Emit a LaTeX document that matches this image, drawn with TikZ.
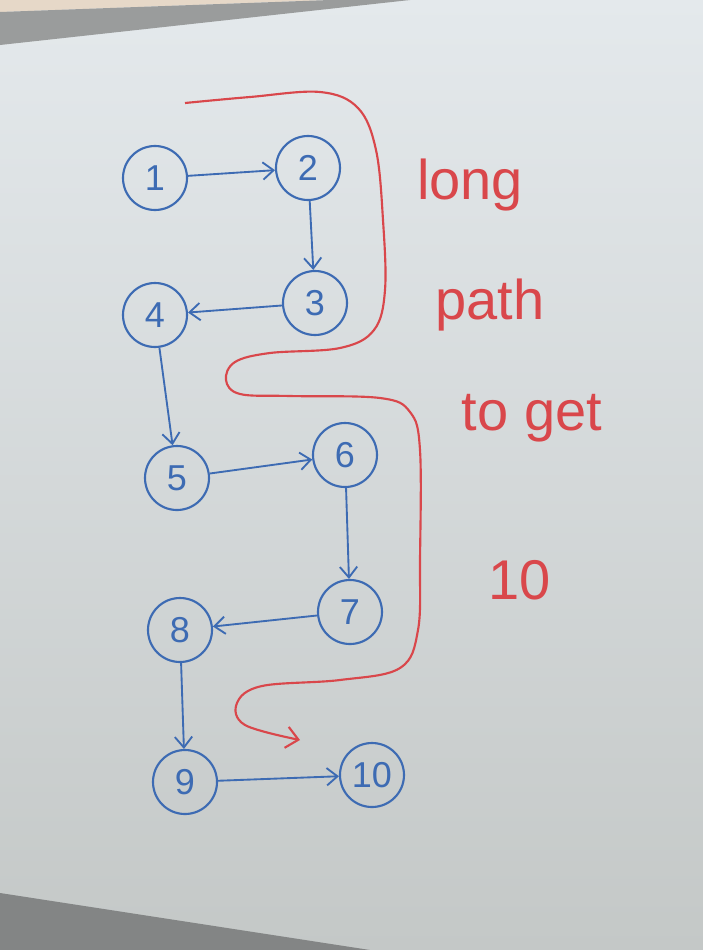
\documentclass[tikz,border=0pt]{standalone}
\usepackage{fontspec}
\setmainfont{Liberation Sans}
\usetikzlibrary{arrows.meta}
\definecolor{markerblue}{HTML}{3D6BB3}
\definecolor{markerred}{HTML}{D9474B}
\definecolor{boardtop}{HTML}{E4E9EC}
\definecolor{boardbot}{HTML}{C4C8C7}
\definecolor{frame}{HTML}{9A9C9C}
\definecolor{wall}{HTML}{E6D8C8}
\tikzset{
  vertex/.style={draw=markerblue,circle,line width=1.6pt,minimum size=48pt,
    inner sep=0pt,text=markerblue,font=\fontsize{27}{27}\selectfont},
  edge/.style={draw=markerblue,line width=1.4pt,-{Straight Barb[length=8pt,width=13pt]}},
  longpath/.style={draw=markerred,line width=1.6pt,-{Straight Barb[length=9pt,width=16pt]}},
  note/.style={text=markerred,font=\fontsize{42}{42}\selectfont,inner sep=0pt}
}
\begin{document}
\begin{tikzpicture}[x=0.75pt,y=-0.75pt]
  % whiteboard and frame
  \shade[top color=boardtop,bottom color=boardbot] (0,0) rectangle (703,950);
  \fill[wall] (0,0) -- (330,0) -- (0,12) -- cycle;
  \fill[frame] (0,12) -- (330,0) -- (410,0) -- (0,45) -- cycle;
  \fill[frame!85!black] (0,893) -- (370,950) -- (0,950) -- cycle;
  \useasboundingbox (0,0) rectangle (703,950);

  \def \Nodes {
    1/155/178,
    2/308/168,
    3/315/303,
    4/155/315,
    5/177/478,
    6/345/455,
    7/350/612,
    8/180/630,
    9/185/782,
    10/372/775}
  \def \Edges {
    1/2, 2/3, 3/4, 4/5, 5/6, 6/7, 7/8, 8/9, 9/10}

  \foreach \id / \x / \y in \Nodes {
    \node[vertex] (n\id) at (\x, \y) {\id};
  }
  \foreach \a / \b in \Edges {
    \path[edge] (n\a) -- (n\b);
  }

  % the long red path
  \draw[longpath] plot[smooth,tension=0.6] coordinates {
    (185,103) (250,97) (320,92) (358,108) (376,150) (383,220) (385,290)
    (374,330) (340,348) (270,353) (235,362) (226,380) (240,394) (290,396)
    (380,398) (410,412) (420,450) (420,560) (418,630) (400,668) (340,680)
    (262,686) (237,703) (245,725) (300,740)};

  \node[note] (long) at (470,185) {long};
  \node[note] (path) at (490,305) {path};
  \node[note] (toget) at (532,418) {to get};
  \node[note] (ten) at (520,580) {10};
\end{tikzpicture}
\end{document}
